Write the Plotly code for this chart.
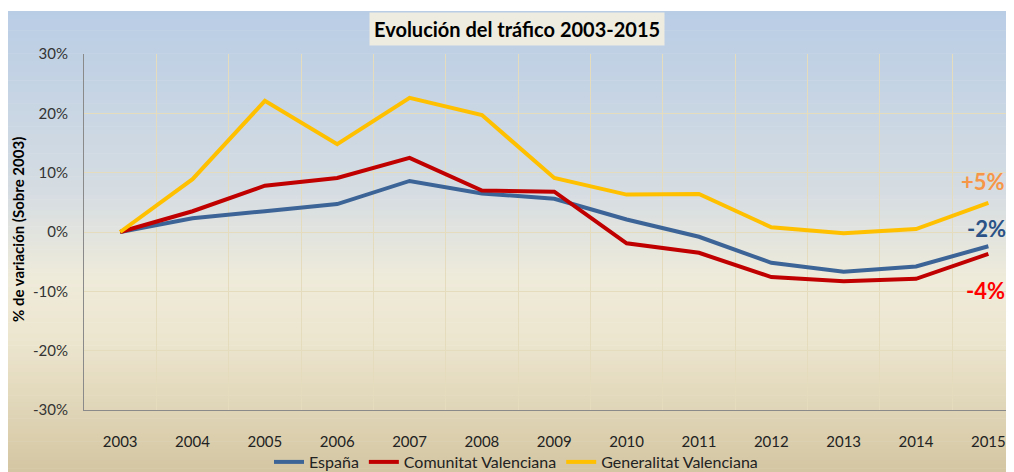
import plotly.graph_objects as go

years = ["2003", "2004", "2005", "2006", "2007", "2008", "2009", "2010", "2011", "2012", "2013", "2014", "2015"]
espana = [0.0, 2.3, 3.5, 4.7, 8.6, 6.5, 5.6, 2.1, -0.8, -5.2, -6.7, -5.8, -2.4]
comunitat = [0.0, 3.5, 7.8, 9.1, 12.5, 7.0, 6.8, -1.9, -3.5, -7.6, -8.3, -7.9, -3.7]
generalitat = [0.0, 8.9, 22.1, 14.8, 22.6, 19.7, 9.1, 6.3, 6.4, 0.8, -0.2, 0.5, 4.9]
y_ticks = [-0.3, -0.2, -0.1, 0.0, 0.1, 0.2, 0.3]
y_tick_labels = ["-30%", "-20%", "-10%", "0%", "10%", "20%", "30%"]

OFF = 8  # page body margin
W, H = 1014 - OFF, 472 - OFF
ML, MR, MT, MB = 84 - OFF, 0, 54 - OFF, H - (410 - OFF)
PW, PH = W - ML - MR, H - MT - MB

def px_x(p):
    return (p - OFF - ML) / PW

def px_y(p):
    return (H - MB - (p - OFF)) / PH

fig = go.Figure()

series = [
    ("España", espana, "#3d6496"),
    ("Comunitat Valenciana", comunitat, "#c00000"),
    ("Generalitat Valenciana", generalitat, "#ffc000"),
]
for name, vals, col in series:
    fig.add_trace(go.Scatter(
        x=years, y=[v / 100 for v in vals], name=name, mode="lines",
        line=dict(color=col, width=4), hoverinfo="skip",
    ))

# gradient background bands
stops = [(0.0, (185, 205, 229)), (0.40, (214, 221, 226)), (0.58, (239, 235, 218)), (0.72, (236, 229, 206)), (1.0, (212, 198, 162))]

def color_at(t):
    for i in range(len(stops) - 1):
        t0, c0 = stops[i]
        t1, c1 = stops[i + 1]
        if t0 <= t <= t1:
            f = (t - t0) / (t1 - t0)
            return "rgb(%d,%d,%d)" % tuple(round(a + (b - a) * f) for a, b in zip(c0, c1))
    return "rgb(%d,%d,%d)" % stops[-1][1]

shapes = []
top, bottom = 11, 472
n = 120
for i in range(n):
    p0 = top + (bottom - top) * i / n
    p1 = top + (bottom - top) * (i + 1) / n + 0.6
    shapes.append(dict(type="rect", xref="paper", yref="paper", x0=px_x(8), x1=px_x(1030),
                       y0=px_y(p1), y1=px_y(p0), fillcolor=color_at((i + 0.5) / n),
                       line=dict(width=0), layer="below"))

def ann(text, x, y, size, color, **kw):
    return dict(text=text, xref="paper", yref="paper", x=px_x(x), y=px_y(y),
                xanchor="center", yanchor="middle", showarrow=False,
                font=dict(family="Lato", size=size, color=color), **kw)

annotations = [
    ann("<b>Evolución del tráfico 2003-2015</b>", 517, 29, 20, "#000", bgcolor="#eeece1", borderpad=4),
    ann("<b>% de variación (Sobre 2003)</b>", 18, 230, 15, "#000", textangle=-90),
    ann("<b>+5%</b>", 983, 181, 22, "#f79646"),
    ann("<b>-2%</b>", 986, 228, 22, "#2a5286"),
    ann("<b>-4%</b>", 985, 290, 22, "#ff0000"),
]

fig.update_layout(
    width=W, height=H,
    margin=dict(l=ML, r=MR, t=MT, b=MB, autoexpand=False),
    paper_bgcolor="white", plot_bgcolor="rgba(0,0,0,0)",
    font=dict(family="Lato", size=15, color="#333"),
    shapes=shapes, annotations=annotations,
    showlegend=True,
    legend=dict(orientation="h", x=px_x(516), xanchor="center", y=px_y(462), yanchor="middle",
                font=dict(family="Lato", size=16, color="#222"), bgcolor="rgba(0,0,0,0)",
                itemwidth=30, tracegroupgap=0),
)
fig.update_xaxes(
    type="category", range=[-0.5, -0.5 + PW / 72.35], tickson="boundaries",
    showgrid=True, gridcolor="#e4dcbc", gridwidth=1, automargin=False,
    showline=True, linecolor="#8a8a8a", linewidth=1, ticks="",
    ticklabelstandoff=18, tickfont=dict(size=15, color="#222"), zeroline=False,
)
fig.update_yaxes(
    range=[-0.3, 0.3], tickvals=y_ticks, ticktext=y_tick_labels, automargin=False,
    showgrid=True, gridcolor="#e4dcbc", gridwidth=1, zeroline=False,
    showline=True, linecolor="#8a8a8a", linewidth=1, ticks="",
    ticklabelstandoff=12, tickfont=dict(size=15, color="#333"),
)

fig.write_html(
    "out.html",
    post_script="document.documentElement.style.overflow='hidden';document.body.style.overflow='hidden';",
)
